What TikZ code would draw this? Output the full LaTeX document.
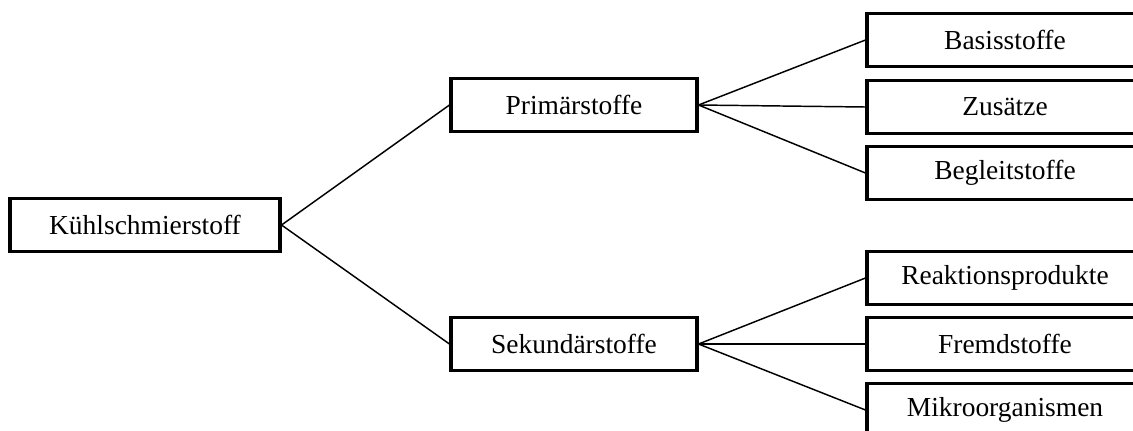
\documentclass[tikz,border=0pt]{standalone}
\usepackage{fontspec}
\setmainfont{Liberation Serif}
\begin{document}
\begin{tikzpicture}[x=0.75pt,y=-0.75pt,
  box/.style={draw=black,line width=2.3pt,fill=white,rectangle,inner sep=0pt,
    minimum height=39.75pt,font=\fontsize{20.6}{24}\selectfont},
  conn/.style={draw=black,line width=1.1pt}]
\useasboundingbox (0,0) rectangle (1133,430);
\clip (0,0) rectangle (1133,430);
% root and second level
\node[box,minimum width=202.5pt] (root) at (145,225) {Kühlschmierstoff};
\node[box,minimum width=184.5pt] (prim) at (574,105) {Primärstoffe};
\node[box,minimum width=184.5pt] (sek)  at (574,344) {Sekundärstoffe};
% third level (runs past the right edge)
\node[box,minimum width=207pt] (basis)  at (1005,40)  {Basisstoffe};
\node[box,minimum width=207pt] (zus)    at (1005,107) {Zusätze};
\node[box,minimum width=207pt] (begl)   at (1005,173) {Begleitstoffe};
\node[box,minimum width=207pt] (reakt)  at (1005,278) {Reaktionsprodukte};
\node[box,minimum width=207pt] (fremd)  at (1005,344) {Fremdstoffe};
\node[box,minimum width=207pt] (mikro)  at (1005,410) {Mikroorganismen};
% connectors
\draw[conn] (root.east) -- (prim.west);
\draw[conn] (root.east) -- (sek.west);
\draw[conn] (prim.east) -- (basis.west);
\draw[conn] (prim.east) -- (zus.west);
\draw[conn] (prim.east) -- (begl.west);
\draw[conn] (sek.east) -- (reakt.west);
\draw[conn] (sek.east) -- (fremd.west);
\draw[conn] (sek.east) -- (mikro.west);
\end{tikzpicture}
\end{document}
